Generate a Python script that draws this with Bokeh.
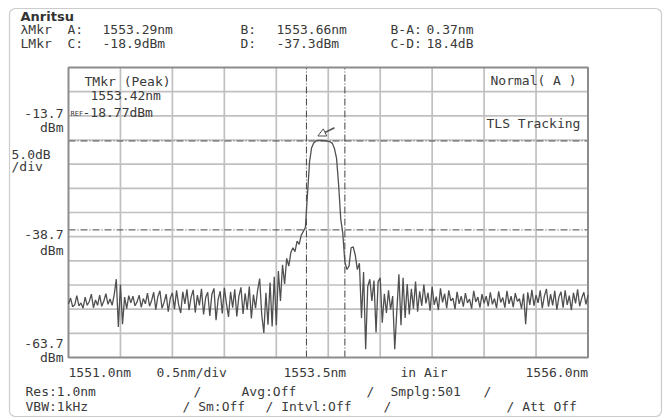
import numpy as np
from bokeh.plotting import figure
from bokeh.models import Label, BoxAnnotation, Range1d, Arrow, NormalHead
from bokeh.embed import file_html
from bokeh.resources import INLINE

# ---------------- data ----------------
x_start, x_stop = 1551.0, 1556.0
wavelength = np.round(np.linspace(x_start, x_stop, 251), 2)
power_dbm = [
    -52.6, -51.4, -53.2, -52.8, -50.9, -53.0, -52.4, -53.5, -51.2, -52.9,
    -52.1, -50.6, -53.4, -51.8, -52.9, -50.8, -53.1, -52.0, -50.5, -52.7,
    -51.6, -52.9, -50.7, -47.5, -57.4, -48.6, -56.8, -51.2, -53.6, -50.9,
    -52.4, -51.0, -53.0, -52.2, -50.8, -53.3, -51.5, -52.6, -50.4, -53.1,
    -51.9, -50.2, -53.8, -51.1, -49.9, -53.5, -52.3, -50.6, -54.2, -51.4,
    -50.3, -53.7, -49.8, -52.8, -54.5, -50.1, -52.6, -49.6, -53.9, -51.2,
    -49.7, -54.4, -50.8, -52.9, -49.5, -54.8, -51.3, -50.2, -55.1, -50.6,
    -49.4, -56.0, -51.7, -50.0, -54.6, -49.3, -52.5, -55.3, -50.1, -53.4,
    -49.6, -55.2, -51.0, -49.2, -54.7, -50.4, -53.8, -49.0, -55.6, -50.7,
    -53.5, -49.8, -47.4, -54.9, -58.6, -50.3, -56.9, -48.2, -57.3, -47.0,
    -57.0, -45.8, -52.0, -44.5, -48.5, -43.2, -44.8, -42.0, -41.0, -41.8,
    -39.6, -40.3, -38.4, -37.6, -36.8, -30.0, -23.2, -20.3, -19.3, -18.95,
    -18.8, -18.77, -18.8, -18.85, -18.9, -19.0, -19.1, -19.4, -20.5, -22.5,
    -28.0, -35.0, -38.0, -44.0, -45.5, -44.8, -41.0, -40.8, -42.5, -45.5,
    -44.2, -55.5, -46.0, -62.0, -49.0, -47.5, -52.0, -47.8, -58.5, -48.0,
    -47.2, -56.5, -50.5, -54.5, -49.8, -53.8, -51.0, -62.0, -54.0, -46.5,
    -57.0, -47.2, -55.5, -48.5, -54.8, -49.5, -53.6, -48.0, -54.2, -50.0,
    -53.0, -48.6, -52.5, -50.3, -54.0, -49.0, -52.8, -51.1, -53.9, -49.4,
    -52.3, -50.5, -53.5, -49.8, -52.0, -51.4, -53.7, -50.1, -52.6, -51.0,
    -53.2, -50.4, -52.4, -51.6, -53.6, -49.9, -52.2, -51.2, -53.4, -50.6,
    -52.5, -51.0, -53.1, -50.2, -52.7, -51.5, -53.5, -50.0, -52.3, -51.3,
    -53.4, -49.9, -52.6, -51.0, -53.3, -50.4, -52.1, -51.5, -53.6, -50.5,
    -56.8, -50.2, -52.8, -49.7, -53.0, -50.8, -52.4, -49.8, -53.5, -51.0,
    -49.5, -53.2, -50.6, -52.9, -49.9, -53.8, -51.2, -50.1, -53.4, -49.8,
    -52.8, -50.9, -53.9, -50.3, -52.5, -49.6, -53.1, -51.4, -50.2, -52.7, -50.8,
]

wl_markers = {"A": 1553.29, "B": 1553.66}
lvl_markers = {"C": -18.9, "D": -37.3}
peak_nm, peak_dbm = 1553.42, -18.77
db_per_div, n_div = 5.0, 12
y_bottom = -63.7
y_labels = [-13.7, -38.7, -63.7]
x_tick_labels = ["1551.0nm", "0.5nm/div", "1553.5nm", "in Air", "1556.0nm"]
settings_row1 = ["Res:1.0nm", "/", "Avg:Off", "/", "Smplg:501", "/"]
settings_row2 = ["VBW:1kHz", "/ Sm:Off", "/ Intvl:Off", "/", "/ Att Off"]

# ---------------- layout (pixels of the page) ----------------
W, H = 665, 419
FL, FR, FT, FB = 68.0, 587.5, 67.0, 357.0          # plot frame edges
y_top = y_bottom + n_div * db_per_div
sx = (FR - FL) / (x_stop - x_start)
sy = (FB - FT) / (y_top - y_bottom)
xr = Range1d(x_start - FL / sx, x_stop + (W - FR) / sx)
yr = Range1d(y_bottom - (H - FB) / sy, y_top + FT / sy)

p = figure(width=W, height=H, x_range=xr, y_range=yr,
           output_backend="svg", toolbar_location=None,
           x_axis_location=None, y_axis_location=None,
           min_border=0)
p.background_fill_color = "white"
p.border_fill_color = "white"
p.outline_line_color = None
p.grid.visible = False

# grid
x_grid = [x_start + 0.5 * k for k in range(1, 10)]
y_grid = [y_bottom + db_per_div * k for k in range(1, n_div)]
p.segment(x0=x_grid, x1=x_grid, y0=[y_bottom] * len(x_grid), y1=[y_top] * len(x_grid),
          line_color="#c0c0c0", line_width=1.7)
p.segment(x0=[x_start] * len(y_grid), x1=[x_stop] * len(y_grid), y0=y_grid, y1=y_grid,
          line_color="#c0c0c0", line_width=1.7)

# marker lines
wl = list(wl_markers.values())
lv = list(lvl_markers.values())
p.segment(x0=wl, x1=wl, y0=[y_bottom] * 2, y1=[y_top] * 2,
          line_color="#444444", line_width=1, line_dash="7 2 1 2")
p.segment(x0=[x_start] * 2, x1=[x_stop] * 2, y0=lv, y1=lv,
          line_color="#444444", line_width=1, line_dash="7 2 1 2")

# frame
p.quad(left=[x_start], right=[x_stop], bottom=[y_bottom], top=[y_top],
       fill_alpha=0, line_color="#8c8c8c", line_width=2)

# trace
p.line(wavelength, power_dbm, line_color="#505050", line_width=1.3)

# peak arrow
p.add_layout(Arrow(end=NormalHead(size=8, fill_color="white", line_color="#555555", line_width=1),
                   x_start=peak_nm + 0.14, y_start=peak_dbm + 2.6, x_end=peak_nm - 0.02, y_end=peak_dbm + 0.9,
                   line_color="#555555", line_width=1.5))

FONT = "DejaVu Sans Mono"
COL = "#3a3a3a"

def lab(text, x, y, align="left", size=13, font=FONT, style="normal", color=COL):
    p.add_layout(Label(x=x, y=y, x_units="canvas", y_units="canvas", text=text,
                       text_align=align, text_baseline="middle", text_font=font,
                       text_font_size=f"{size}px", text_font_style=style, text_color=color))

# outer rounded border
p.add_layout(BoxAnnotation(left=9, right=661, top=8, bottom=416,
                           left_units="canvas", right_units="canvas", top_units="canvas", bottom_units="canvas",
                           fill_alpha=0, line_color="#555555", line_width=1.2, border_radius=6))

# header
lab("Anritsu", 20, 16, size=13, font="DejaVu Sans", style="bold", color="#333333")
A, B = wl_markers["A"], wl_markers["B"]
C, D = lvl_markers["C"], lvl_markers["D"]
for txt, x in [("λMkr", 20), ("A:", 67), (f"{A:.2f}nm", 102), ("B:", 240), (f"{B:.2f}nm", 276),
               ("B-A:", 390), (f"{B - A:.2f}nm", 426)]:
    lab(txt, x, 29)
for txt, x in [("LMkr", 20), ("C:", 67), (f"{C:.1f}dBm", 102), ("D:", 240), (f"{D:.1f}dBm", 276),
               ("C-D:", 390), (f"{C - D:.1f}dB", 426)]:
    lab(txt, x, 43)

# in-plot texts
lab("TMkr (Peak)", 84, 81)
lab(f"{peak_nm:.2f}nm", 90, 95)
lab("REF", 70, 113, size=7)
lab(f"{peak_dbm:.2f}dBm", 82, 112)
lab("Normal( A )", 490, 80)
lab("TLS Tracking", 486, 123)

# left scale labels
for val, yv, yd in zip(y_labels, [113, 234, 343], [127, 250, 357]):
    lab(f"{val:.1f}", 63, yv, align="right")
    lab("dBm", 63, yd, align="right")
lab(f"{db_per_div:.1f}dB", 11, 154)
lab("/div", 11, 166)

# bottom labels
for txt, x in zip(x_tick_labels, [68, 156, 283, 400, 525]):
    lab(txt, x, 372)
for txt, x in zip(settings_row1, [25, 193, 241, 366, 390, 483]):
    lab(txt, x, 391)
for txt, x in zip(settings_row2, [25, 182, 265, 383, 506]):
    lab(txt, x, 406)

open("out.html", "w").write(file_html(p, INLINE))
